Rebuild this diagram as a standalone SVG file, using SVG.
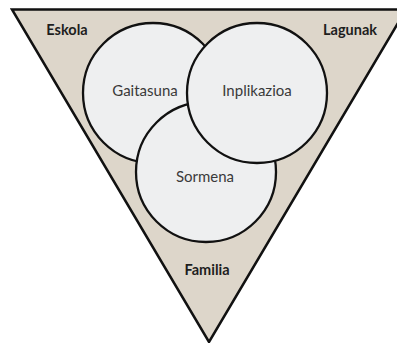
<svg xmlns="http://www.w3.org/2000/svg" width="397" height="343" viewBox="0 0 397 343">
<style>
.tri{fill:#ddd6ca;stroke:#111;stroke-width:2.5;stroke-linejoin:miter}
.c{fill:#eeeff0;stroke:#111;stroke-width:2.3}
.t{font-family:Lato,"Liberation Sans",sans-serif;font-size:15px;fill:#3a3a3a;text-anchor:middle}
.b{font-family:Lato,"Liberation Sans",sans-serif;font-size:14.5px;font-weight:bold;fill:#1e1e1e;text-anchor:middle}
</style>
<rect width="397" height="343" fill="#fff"/>
<g id="frame">
<polygon class="tri" points="12,9.5 406,9.5 209,342"/>
<text class="b" x="67" y="35">Eskola</text>
<text class="b" x="350" y="35">Lagunak</text>
<text class="b" x="207" y="275">Familia</text>
</g>
<g id="gaitasuna">
<circle class="c" cx="153" cy="93" r="70"/>
<text class="t" x="145" y="96">Gaitasuna</text>
</g>
<g id="sormena">
<circle class="c" cx="206" cy="172" r="70"/>
<text class="t" x="205" y="182">Sormena</text>
</g>
<g id="inplikazioa">
<circle class="c" cx="257" cy="93" r="70"/>
<text class="t" x="257" y="96">Inplikazioa</text>
</g>
</svg>
